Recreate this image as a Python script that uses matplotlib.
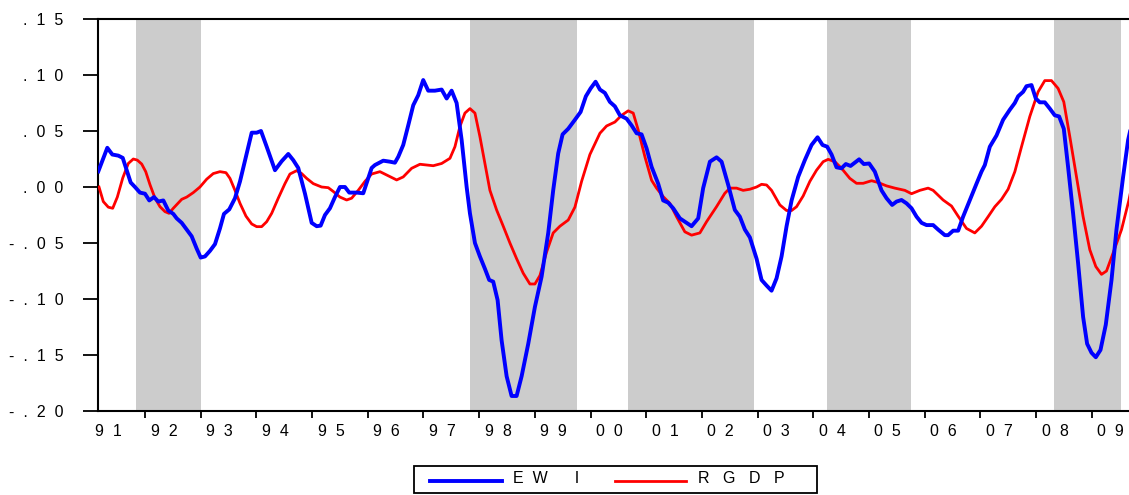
import matplotlib
matplotlib.use("Agg")
import matplotlib.pyplot as plt
from matplotlib.lines import Line2D
from matplotlib.patches import Rectangle

plt.rcParams['font.family'] = ['Liberation Sans', 'DejaVu Sans']

# ---- data ----
ewi_t = [1991.162, 1991.323, 1991.413, 1991.521, 1991.600, 1991.743, 1991.820, 1991.910, 1992.000,
         1992.077, 1992.162, 1992.239, 1992.329, 1992.418, 1992.508, 1992.569, 1992.659, 1992.749,
         1992.838, 1992.928, 1993.000, 1993.077, 1993.167, 1993.257, 1993.346, 1993.418, 1993.513,
         1993.616, 1993.706, 1993.813, 1993.916, 1994.005, 1994.083, 1994.185, 1994.334, 1994.454,
         1994.573, 1994.662, 1994.752, 1994.873, 1994.993, 1995.083, 1995.154, 1995.232, 1995.321,
         1995.411, 1995.501, 1995.591, 1995.668, 1995.801, 1995.919, 1996.070, 1996.129, 1996.278,
         1996.399, 1996.488, 1996.548, 1996.637, 1996.727, 1996.817, 1996.907, 1996.996, 1997.086,
         1997.206, 1997.327, 1997.417, 1997.506, 1997.596, 1997.686, 1997.776, 1997.835, 1997.925,
         1998.014, 1998.104, 1998.181, 1998.253, 1998.332, 1998.404, 1998.494, 1998.583, 1998.673,
         1998.763, 1998.882, 1999.002, 1999.122, 1999.241, 1999.330, 1999.420, 1999.499, 1999.600,
         1999.720, 1999.822, 1999.917, 2000.002, 2000.091, 2000.169, 2000.258, 2000.348, 2000.438,
         2000.528, 2000.648, 2000.738, 2000.828, 2000.917, 2001.007, 2001.097, 2001.215, 2001.305,
         2001.395, 2001.485, 2001.605, 2001.725, 2001.815, 2001.934, 2002.023, 2002.144, 2002.264,
         2002.354, 2002.472, 2002.592, 2002.682, 2002.772, 2002.862, 2002.982, 2003.072, 2003.162,
         2003.251, 2003.341, 2003.431, 2003.521, 2003.611, 2003.729, 2003.849, 2003.969, 2004.077,
         2004.167, 2004.250, 2004.329, 2004.418, 2004.508, 2004.585, 2004.670, 2004.747, 2004.824,
         2004.908, 2005.004, 2005.106, 2005.226, 2005.316, 2005.417, 2005.496, 2005.585, 2005.675,
         2005.765, 2005.855, 2005.945, 2006.034, 2006.153, 2006.242, 2006.363, 2006.422, 2006.512,
         2006.602, 2006.691, 2006.812, 2006.932, 2007.021, 2007.081, 2007.171, 2007.291, 2007.409,
         2007.530, 2007.619, 2007.679, 2007.769, 2007.829, 2007.919, 2007.996, 2008.068, 2008.158,
         2008.248, 2008.337, 2008.415, 2008.499, 2008.576, 2008.666, 2008.756, 2008.846, 2008.918,
         2008.997, 2009.074, 2009.158, 2009.253, 2009.356, 2009.445, 2009.564, 2009.654, 2009.700]
ewi_v = [0.014, 0.035, 0.029, 0.028, 0.026, 0.004, 0.000, -0.005, -0.006,
         -0.012, -0.009, -0.013, -0.012, -0.021, -0.024, -0.028, -0.032, -0.038,
         -0.044, -0.055, -0.063, -0.062, -0.057, -0.051, -0.037, -0.024, -0.020,
         -0.010, 0.005, 0.027, 0.0485, 0.0485, 0.050, 0.036, 0.015, 0.023,
         0.0295, 0.024, 0.017, -0.006, -0.032, -0.035, -0.0345, -0.025, -0.019,
         -0.009, 0.000, 0.000, -0.005, -0.005, -0.0056, 0.017, 0.0196, 0.0235,
         0.0226, 0.0217, 0.027, 0.0375, 0.055, 0.073, 0.082, 0.0955, 0.086,
         0.086, 0.087, 0.079, 0.086, 0.075, 0.042, 0.000, -0.0235, -0.050,
         -0.062, -0.073, -0.083, -0.0845, -0.101, -0.137, -0.169, -0.1866, -0.1866,
         -0.169, -0.140, -0.107, -0.080, -0.041, -0.003, 0.030, 0.047, 0.052,
         0.060, 0.067, 0.081, 0.088, 0.094, 0.087, 0.084, 0.076, 0.072,
         0.064, 0.061, 0.055, 0.048, 0.047, 0.0345, 0.018, 0.003, -0.012,
         -0.014, -0.019, -0.028, -0.032, -0.035, -0.028, -0.001, 0.0226, 0.0265,
         0.0226, 0.002, -0.0205, -0.0265, -0.038, -0.045, -0.064, -0.083, -0.088,
         -0.0926, -0.0815, -0.062, -0.035, -0.012, 0.009, 0.024, 0.0375, 0.0444,
         0.0375, 0.036, 0.029, 0.0176, 0.0167, 0.0205, 0.0188, 0.0217, 0.0247,
         0.0205, 0.021, 0.0137, -0.003, -0.010, -0.016, -0.013, -0.0116, -0.0146,
         -0.019, -0.0265, -0.032, -0.034, -0.034, -0.038, -0.043, -0.043, -0.039,
         -0.039, -0.0265, -0.0116, 0.003, 0.0137, 0.0196, 0.036, 0.046, 0.060,
         0.069, 0.075, 0.081, 0.085, 0.090, 0.091, 0.079, 0.0756, 0.0756,
         0.070, 0.064, 0.063, 0.052, 0.018, -0.0235, -0.068, -0.116, -0.140,
         -0.148, -0.152, -0.1455, -0.123, -0.083, -0.038, 0.009, 0.042, 0.052]

rgdp_t = [1991.174, 1991.251, 1991.341, 1991.420, 1991.503, 1991.600, 1991.700, 1991.790, 1991.862,
          1991.941, 1992.013, 1992.090, 1992.180, 1992.269, 1992.359, 1992.431, 1992.508, 1992.659,
          1992.749, 1992.867, 1992.987, 1993.108, 1993.226, 1993.346, 1993.454, 1993.526, 1993.616,
          1993.706, 1993.813, 1993.916, 1994.005, 1994.095, 1994.185, 1994.275, 1994.393, 1994.513,
          1994.603, 1994.724, 1994.813, 1994.903, 1995.022, 1995.172, 1995.291, 1995.381, 1995.501,
          1995.621, 1995.711, 1995.829, 1995.950, 1996.070, 1996.219, 1996.339, 1996.519, 1996.637,
          1996.788, 1996.937, 1997.176, 1997.327, 1997.476, 1997.566, 1997.655, 1997.745, 1997.835,
          1997.925, 1998.014, 1998.104, 1998.194, 1998.314, 1998.433, 1998.553, 1998.673, 1998.792,
          1998.912, 1999.002, 1999.092, 1999.212, 1999.330, 1999.451, 1999.600, 1999.720, 1999.840,
          1999.989, 2000.169, 2000.289, 2000.438, 2000.558, 2000.677, 2000.767, 2000.856, 2000.977,
          2001.097, 2001.186, 2001.305, 2001.425, 2001.545, 2001.694, 2001.815, 2001.964, 2002.084,
          2002.263, 2002.412, 2002.503, 2002.623, 2002.741, 2002.862, 2002.982, 2003.072, 2003.162,
          2003.251, 2003.400, 2003.521, 2003.611, 2003.700, 2003.819, 2003.939, 2004.059, 2004.178,
          2004.268, 2004.388, 2004.508, 2004.657, 2004.777, 2004.896, 2005.047, 2005.165, 2005.316,
          2005.465, 2005.645, 2005.765, 2005.914, 2006.063, 2006.153, 2006.332, 2006.483, 2006.601,
          2006.752, 2006.901, 2007.022, 2007.140, 2007.261, 2007.381, 2007.499, 2007.620, 2007.740,
          2007.889, 2008.038, 2008.158, 2008.278, 2008.397, 2008.499, 2008.607, 2008.727, 2008.846,
          2008.966, 2009.074, 2009.176, 2009.266, 2009.384, 2009.536, 2009.667, 2009.700]
rgdp_v = [0.000, -0.013, -0.018, -0.019, -0.009, 0.008, 0.021, 0.025, 0.024,
          0.0205, 0.0137, 0.002, -0.010, -0.0176, -0.022, -0.0235, -0.019, -0.011,
          -0.009, -0.005, 0.000, 0.007, 0.012, 0.0137, 0.0128, 0.0077, -0.003,
          -0.0146, -0.026, -0.033, -0.0354, -0.0354, -0.031, -0.0235, -0.010, 0.003,
          0.0116, 0.0146, 0.012, 0.0077, 0.003, 0.000, -0.0006, -0.004, -0.009,
          -0.0116, -0.010, -0.003, 0.005, 0.0116, 0.0137, 0.0107, 0.0063, 0.009,
          0.0167, 0.0203, 0.019, 0.021, 0.0256, 0.036, 0.054, 0.066, 0.070,
          0.066, 0.045, 0.021, -0.003, -0.0205, -0.035, -0.050, -0.064, -0.077,
          -0.0866, -0.0866, -0.079, -0.058, -0.041, -0.035, -0.0295, -0.018, 0.005,
          0.029, 0.048, 0.0545, 0.058, 0.064, 0.068, 0.066, 0.051, 0.027,
          0.006, -0.001, -0.0086, -0.0146, -0.0265, -0.040, -0.043, -0.041, -0.031,
          -0.0176, -0.0056, -0.001, -0.001, -0.003, -0.002, 0.000, 0.0024, 0.0018,
          -0.003, -0.016, -0.021, -0.021, -0.0176, -0.008, 0.005, 0.015, 0.0226,
          0.0247, 0.0226, 0.0167, 0.0077, 0.0033, 0.0033, 0.0056, 0.004, 0.001,
          -0.001, -0.003, -0.006, -0.003, -0.001, -0.003, -0.0116, -0.017, -0.026,
          -0.037, -0.041, -0.035, -0.0265, -0.0176, -0.011, -0.002, 0.0137, 0.036,
          0.063, 0.085, 0.095, 0.095, 0.088, 0.076, 0.045, 0.009, -0.0265,
          -0.056, -0.071, -0.078, -0.075, -0.059, -0.038, -0.012, -0.004]

shade_start = [1991.83, 1997.83, 2000.67, 2004.25, 2008.33]
shade_end = [1993.00, 1999.76, 2002.93, 2005.76, 2009.52]

year_ticks = list(range(1991, 2010))
year_labels = ["91", "92", "93", "94", "95", "96", "97", "98", "99", "00",
               "01", "02", "03", "04", "05", "06", "07", "08", "09"]
y_ticks = [0.15, 0.10, 0.05, 0.00, -0.05, -0.10, -0.15, -0.20]
y_labels = [".15", ".10", ".05", ".00", "-.05", "-.10", "-.15", "-.20"]

series_names = ["EWI", "RGDP"]
legend_labels = ["E  W      I", "R   G   D   P"]

W, H = 1129, 495


def spaced(s, sep="  "):
    return sep.join(list(s))


def fx(px):
    return px / W


def fy(py):
    return 1 - py / H


# ---- figure ----
fig = plt.figure(figsize=(W / 100, H / 100), dpi=100)
ax = fig.add_axes([fx(98), fy(411), 1 - fx(98), (411 - 19) / H])

for s, e in zip(shade_start, shade_end):
    ax.axvspan(s, e, color="#CCCCCC", lw=0, zorder=0)

ax.plot(rgdp_t, rgdp_v, color="#FF0000", lw=2.0, zorder=3)
ax.plot(ewi_t, ewi_v, color="#0000FF", lw=2.8, zorder=4)

ax.set_xlim(1991.156, 2009.67)
ax.set_ylim(-0.20, 0.15)

ax.spines['right'].set_visible(False)
for sp in ['left', 'top', 'bottom']:
    ax.spines[sp].set_linewidth(1.5)

ax.set_yticks(y_ticks)
ax.set_yticklabels([spaced(l) for l in y_labels], fontsize=11.5)
ax.tick_params(axis='y', direction='out', length=11, width=1.3, pad=14)

ax.set_xticks([t for t in year_ticks if t > 1991.156])
ax.set_xticklabels([])
ax.tick_params(axis='x', direction='out', length=5, width=1.3)

for t, lab in zip(year_ticks, year_labels):
    ax.annotate(spaced(lab), xy=(t, 0), xycoords=('data', 'axes fraction'),
                xytext=(4, -9), textcoords='offset points', ha='left', va='top',
                fontsize=11.5, annotation_clip=False)

# ---- legend (drawn in figure coordinates) ----
fig.patches.append(Rectangle((fx(414), fy(493)), fx(817) - fx(414), fy(466) - fy(493),
                             transform=fig.transFigure, fill=False, edgecolor='black',
                             lw=1.3, zorder=5))
colors = ["#0000FF", "#FF0000"]
widths = [2.8, 2.0]
line_x = [(430, 502), (615, 686)]
text_x = [513, 698]
for lab, c, lw, (x0, x1), tx in zip(legend_labels, colors, widths, line_x, text_x):
    fig.add_artist(Line2D([fx(x0), fx(x1)], [fy(481), fy(481)], color=c, lw=lw,
                          transform=fig.transFigure))
    fig.text(fx(tx), fy(478.5), lab, ha='left', va='center', fontsize=11.5)

fig.savefig("out.png", dpi=100)
